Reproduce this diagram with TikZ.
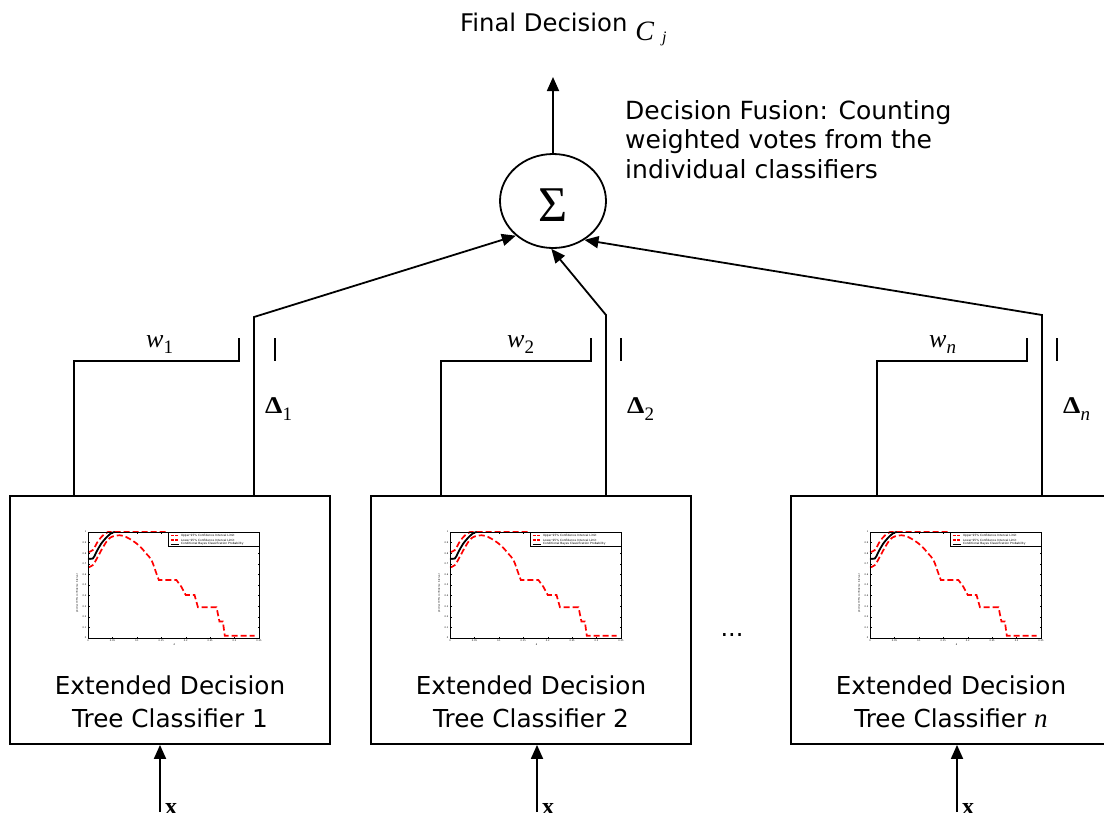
\documentclass[tikz,border=0pt]{standalone}
\usepackage{fontspec}
\setmainfont{DejaVu Sans}
\newfontfamily\tms{Liberation Serif}
\usetikzlibrary{shapes.geometric,arrows.meta,calc}

\tikzset{
  ln/.style={line width=1.8pt},
  arr/.style={ln,-{Triangle[length=14pt,width=12pt]}},
  box/.style={draw,ln,minimum width=320pt,minimum height=248pt,inner sep=0pt},
  lbl/.style={font=\fontsize{24.7}{33}\selectfont,align=center,inner sep=0pt},
  sym/.style={inner sep=0pt,anchor=base west},
  pred/.style={red,line width=1.7pt,dash pattern=on 6pt off 3pt},
  pblk/.style={black,line width=1.8pt},
  tiny/.style={inner sep=0pt,font=\fontsize{2.3}{2.3}\selectfont},
  leg/.style={inner sep=0pt,anchor=west,font=\fontsize{2.9}{2.9}\selectfont},
}

\newcommand\miniplot[1]{%
\begin{scope}[shift={(#1,638)},x=488.57pt,y=106pt]
  \draw[pblk] plot[smooth,tension=0.6] coordinates {(0,.75) (.01,.75) (.017,.81) (.027,.89) (.038,.95) (.048,.99) (.055,1)};
  \draw[pred] plot[smooth,tension=0.6] coordinates {(0,.81) (.01,.83) (.02,.91) (.031,.97) (.041,1)} -- (.164,1);
  \draw[pred] plot[smooth,tension=0.6] coordinates {(0,.666) (.01,.688) (.02,.766) (.031,.859) (.041,.928) (.051,.959) (.065,.969) (.078,.953) (.092,.916) (.106,.866) (.119,.797) (.130,.734) (.140,.609) (.145,.547)} -- (.181,.547) -- (.191,.484) -- (.200,.406) -- (.218,.406) -- (.225,.291) -- (.263,.291) -- (.269,.156) -- (.276,.156) -- (.280,.022) -- (.341,.022);
  \draw[line width=.5pt] (0,0) rectangle (.35,1);
  \foreach \t in {0,0.05,0.1,0.15,0.2,0.25,0.3,0.35}{
    \draw[line width=.25pt] (\t,0) -- ++(0,1.5pt) (\t,1) -- ++(0,-1.5pt);
    \node[tiny,anchor=north] at (\t,-.015) {\t};}
  \foreach \t in {0,0.1,0.2,0.3,0.4,0.5,0.6,0.7,0.8,0.9,1}{
    \draw[line width=.25pt] (0,\t) -- ++(1.5pt,0) (.35,\t) -- ++(-1.5pt,0);
    \node[tiny,anchor=east] at (-.003,\t) {\t};}
  \node[tiny,rotate=90] at (-.022,.42) {pCorrect 95\% confidence interval};
  \node[tiny] at (.177,-.06) {d};
  \draw[fill=white,line width=.4pt] (.164,1) rectangle (.35,.866);
  \draw[pred,line width=1.3pt,dash pattern=on 3pt off 1.5pt] (.169,.965) -- (.187,.965);
  \draw[pred,line width=1.3pt,dash pattern=on 3pt off 1.5pt] (.169,.925) -- (.187,.925);
  \draw[pblk,line width=1.3pt] (.169,.885) -- (.187,.885);
  \node[leg] at (.19,.965) {Upper 95\% Confidence Interval Limit};
  \node[leg] at (.19,.925) {Lower 95\% Confidence Interval Limit};
  \node[leg] at (.19,.885) {Conditional Bayes Classification Probability};
\end{scope}}

\newcommand\bDelta{\tms\fontsize{24}{24}\selectfont\bfseries\scalebox{1.15}[1]{Δ}}
\newcommand\wsym{\tms\fontsize{26}{26}\selectfont\itshape w}

\begin{document}
\begin{tikzpicture}[x=1pt,y=-1pt]
\useasboundingbox (0,0) rectangle (1104,812);

% classifier boxes
\node[box] (b1) at (170,620) {};
\node[box] (b2) at (531,620) {};
\node[box] (b3) at (951,620) {};
\miniplot{88}
\miniplot{450}
\miniplot{870}
\node[lbl] (t1) at (170,702) {Extended Decision\\Tree Classifier 1};
\node[lbl] (t2) at (531,702) {Extended Decision\\Tree Classifier 2};
\node[lbl] (t3) at (951,702) {Extended Decision\\Tree Classifier {\tms\itshape\fontsize{27}{27}\selectfont n}};
\node[sym,anchor=base,font=\fontsize{24}{24}\selectfont] (dots) at (732,636) {...};

% fusion node
\node[ellipse,draw,ln,minimum width=106pt,minimum height=94pt,inner sep=0pt] (sig) at (553,201)
  {\raisebox{-20.5pt}[0pt][0pt]{\tms\fontsize{50}{50}\selectfont Σ}};
\coordinate (out) at (553,77);
\draw[arr] (sig.north) -- (out);

\node[sym,font=\fontsize{24.3}{24.3}\selectfont] (fd) at (460,31)
  {Final Decision\hspace{8pt}\raisebox{-9pt}{\tms\itshape\fontsize{28}{28}\selectfont C}\hspace{8pt}\raisebox{-11pt}{\tms\itshape\fontsize{16}{16}\selectfont j}};
\node[inner sep=0pt,anchor=north west,align=left,font=\fontsize{25}{29.5}\selectfont] (fus) at (625,100)
  {Decision Fusion: Counting\\weighted votes from the\\individual classifiers};

% weights and deltas
\foreach \i/\wl/\wr/\dx/\dy/\tx/\ang in {1/74/239/254/317/275/223, 2/441/591/606/315/621/268, 3/877/1027/1042/315/1057/309}{
  \coordinate (wl\i) at (\wl,361);
  \coordinate (wr\i) at (\wr,338);
  \coordinate (dt\i) at (\dx,\dy);
  \draw[ln] (wl\i |- b\i.north) -- (wl\i) -| (wr\i);
  \draw[arr] (dt\i |- b\i.north) -- (dt\i) -- (sig.\ang);
  \draw[ln] (\tx,338) -- (\tx,361);
}

\node[sym] (w1) at (146,347) {\wsym\raisebox{-6pt}{\upshape\fontsize{19}{19}\selectfont 1}};
\node[sym] (w2) at (507,347) {\wsym\raisebox{-6pt}{\upshape\fontsize{19}{19}\selectfont 2}};
\node[sym] (w3) at (929,347) {\wsym\raisebox{-6pt}{\fontsize{19}{19}\selectfont n}};

\node[sym] (d1) at (265,413) {\bDelta\raisebox{-7pt}{\mdseries\fontsize{19}{19}\selectfont 1}};
\node[sym] (d2) at (627,413) {\bDelta\raisebox{-7pt}{\mdseries\fontsize{19}{19}\selectfont 2}};
\node[sym] (d3) at (1063,413) {\bDelta\raisebox{-7pt}{\mdseries\itshape\fontsize{19}{19}\selectfont n}};

% inputs
\foreach \i/\xx in {1/160, 2/537, 3/957}{
  \coordinate (in\i) at (\xx,812);
  \draw[arr] (in\i) -- (in\i |- b\i.south);
  \node[sym] (x\i) at (\xx+5,814) {\tms\bfseries\fontsize{24}{24}\selectfont x};
}
\end{tikzpicture}
\end{document}
